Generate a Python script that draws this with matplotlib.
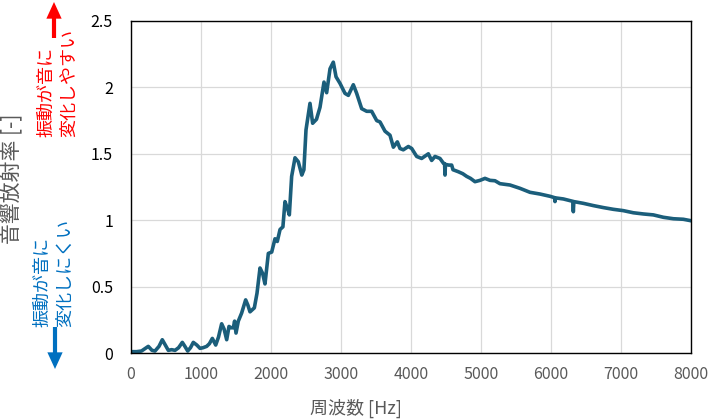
import matplotlib
matplotlib.use("Agg")
import matplotlib.pyplot as plt

plt.rcParams["font.family"] = ["Noto Sans CJK JP", "DejaVu Sans"]

# ─────────────────────────────────────────────
# DATA  (音響放射率 vs 周波数)
# ─────────────────────────────────────────────
freq = [0, 80, 150, 247, 300, 343, 400, 447, 490, 533, 580, 629, 680, 733, 770,
        810, 850, 890, 940, 986, 1030, 1081, 1120, 1162, 1210, 1250, 1295, 1330,
        1367, 1400, 1430, 1462, 1480, 1500, 1533, 1580, 1638, 1670, 1700, 1762,
        1800, 1843, 1880, 1914, 1962, 2010, 2057, 2090, 2129, 2170, 2200, 2240,
        2262, 2295, 2343, 2390, 2440, 2470, 2500, 2557, 2595, 2650, 2700, 2757,
        2795, 2843, 2890, 2929, 2986, 3057, 3105, 3176, 3224, 3295, 3367, 3438,
        3510, 3557, 3629, 3700, 3748, 3805, 3843, 3890, 3962, 4010, 4081, 4152,
        4248, 4295, 4343, 4414, 4462, 4480, 4486, 4492, 4540, 4581, 4600, 4676,
        4740, 4795, 4850, 4914, 4986, 5057, 5129, 5200, 5271, 5414, 5557, 5700,
        5843, 5986, 6050, 6057, 6064, 6176, 6312, 6319, 6326, 6462, 6605, 6748,
        6890, 7033, 7176, 7319, 7462, 7605, 7748, 7890, 8000]
ratio = [0.01, 0.01, 0.015, 0.05, 0.02, 0.015, 0.05, 0.10, 0.06, 0.02, 0.025,
         0.02, 0.04, 0.08, 0.05, 0.015, 0.04, 0.08, 0.06, 0.035, 0.04, 0.05,
         0.07, 0.11, 0.06, 0.12, 0.22, 0.18, 0.10, 0.20, 0.19, 0.19, 0.24, 0.15,
         0.24, 0.30, 0.40, 0.36, 0.31, 0.34, 0.45, 0.64, 0.60, 0.52, 0.75, 0.76,
         0.86, 0.84, 0.93, 0.95, 1.14, 1.08, 1.04, 1.33, 1.47, 1.44, 1.34, 1.38,
         1.68, 1.88, 1.73, 1.76, 1.85, 2.04, 1.96, 2.14, 2.19, 2.08, 2.03, 1.955,
         1.94, 2.02, 1.955, 1.84, 1.82, 1.82, 1.75, 1.74, 1.67, 1.64, 1.55, 1.59,
         1.54, 1.53, 1.555, 1.54, 1.48, 1.465, 1.50, 1.45, 1.48, 1.465, 1.43,
         1.425, 1.34, 1.42, 1.415, 1.415, 1.38, 1.365, 1.35, 1.33, 1.315, 1.29,
         1.30, 1.315, 1.30, 1.297, 1.275, 1.265, 1.24, 1.21, 1.197, 1.18, 1.17,
         1.14, 1.168, 1.16, 1.142, 1.064, 1.14, 1.127, 1.11, 1.095, 1.082, 1.072,
         1.056, 1.047, 1.04, 1.022, 1.011, 1.007, 0.996]

x_ticks = [0, 1000, 2000, 3000, 4000, 5000, 6000, 7000, 8000]
y_ticks = [0, 0.5, 1, 1.5, 2, 2.5]
y_tick_labels = ["0", "0.5", "1", "1.5", "2", "2.5"]

LINE = "#1b5e7b"
GRAY = "#595959"
GRID = "#d9d9d9"
RED = "#ff0000"
BLUE = "#0070c0"

# ─────────────────────────────────────────────
# FIGURE
# ─────────────────────────────────────────────
fig = plt.figure(figsize=(7.12, 4.19), dpi=100)
ax = fig.add_axes([131 / 712, 66 / 419, 560 / 712, 332 / 419])

ax.plot(freq, ratio, color=LINE, lw=2.6, solid_joinstyle="round")

ax.set_xlim(0, 8000)
ax.set_ylim(0, 2.5)
ax.set_xticks(x_ticks)
ax.set_yticks(y_ticks)
ax.set_yticklabels(y_tick_labels)
ax.grid(color=GRID, lw=0.9)
ax.set_axisbelow(True)
ax.tick_params(axis="x", length=0, pad=9, labelsize=11.5, labelcolor=GRAY)
ax.tick_params(axis="y", length=0, pad=13, labelsize=11.5, labelcolor="black")
for sp in ax.spines.values():
    sp.set_color("black")
    sp.set_linewidth(1.0)

# axis titles
fig.text(356 / 712, 11 / 419, "周波数 [Hz]", color=GRAY, fontsize=13,
         ha="center", va="center")
fig.text(12 / 712, 240 / 419, "音響放射率 [-]", color=GRAY, fontsize=15,
         rotation=90, ha="center", va="center")

# colored notes + arrows
fig.text(57.5 / 712, 282 / 419, "振動が音に\n変化しやすい", color=RED,
         fontsize=13, rotation=90, ha="center", va="bottom",
         multialignment="left", linespacing=1.35)
fig.text(53.5 / 712, 92 / 419, "振動が音に\n変化しにくい", color=BLUE,
         fontsize=13, rotation=90, ha="center", va="bottom",
         multialignment="left", linespacing=1.35)

ax.annotate("", xy=(54, 417), xytext=(54, 381), xycoords="figure pixels",
            textcoords="figure pixels",
            arrowprops=dict(facecolor=RED, edgecolor="none", width=3,
                            headwidth=11, headlength=12))
ax.annotate("", xy=(55, 50), xytext=(55, 92), xycoords="figure pixels",
            textcoords="figure pixels",
            arrowprops=dict(facecolor=BLUE, edgecolor="none", width=3,
                            headwidth=11, headlength=12))

fig.savefig("out.png", dpi=100, facecolor="white")
